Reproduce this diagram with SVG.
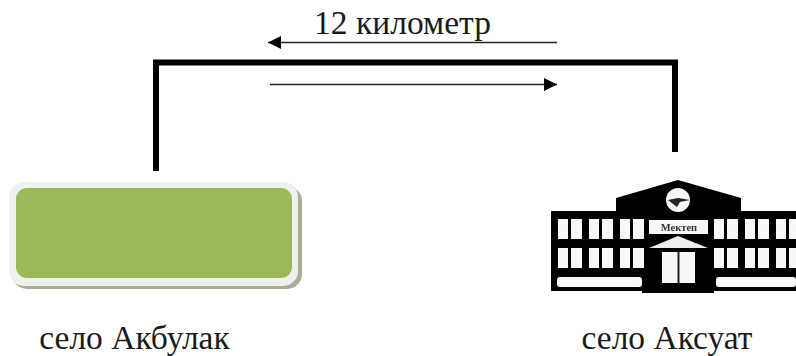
<svg xmlns="http://www.w3.org/2000/svg" width="796" height="356" viewBox="0 0 796 356">
<style>
.t{font-family:"Liberation Serif","Times New Roman",serif;font-size:33.500px;fill:#1a1a1a}
.thin{stroke:#222;stroke-width:1.6;fill:none}
.thick{stroke:#000;stroke-width:6;fill:none}
.w{fill:#f8f8f8}
</style>
<defs>
<marker id="a" markerUnits="userSpaceOnUse" markerWidth="14" markerHeight="14" refX="13" refY="7" orient="auto-start-reverse"><path d="M0 0.5L13 7L0 13.500Z" fill="#000"/></marker>
<filter id="b" x="-5%" y="-5%" width="110%" height="110%"><feGaussianBlur stdDeviation="0.7"/></filter>
<filter id="s" x="-5%" y="-20%" width="110%" height="140%"><feGaussianBlur stdDeviation="1.5"/></filter>
<g id="win"><rect class="w" width="10" height="20"/><rect class="w" x="13" width="11" height="20"/></g>
</defs>
<rect width="796" height="356" fill="#fff"/>
<g id="connectors">
<path d="M159 67H672" stroke="#999" stroke-width="2" fill="none" filter="url(#s)"/>
<path class="thick" d="M156 171V62.500H675V152" filter="url(#b)"/>
<path class="thin" d="M557 42.500H268" marker-end="url(#a)"/>
<path class="thin" d="M270 84.500H557" marker-end="url(#a)"/>
</g>
<g id="label"><text class="t" x="402.500" y="34" text-anchor="middle">12 километр</text></g>
<g id="akbulak">
<rect x="12" y="186" width="290" height="103" rx="15" fill="#a9ad96"/>
<rect x="9" y="182" width="289" height="104" rx="15" fill="#eff1ee"/>
<rect x="16" y="188" width="276" height="90" rx="11" fill="#9bb958"/>
<text class="t" x="134.500" y="349" text-anchor="middle">село Акбулак</text>
</g>
<g id="aksuat">
<g filter="url(#b)">
<path d="M551 211H616V198L678 180L741 198V211H796V291H714V293H642V291H551Z" fill="#000"/>
<circle cx="678" cy="200" r="12" fill="#f6f6f6"/>
<path d="M668 200L678 198L690 200L680 202L677 207Z" fill="#222"/>
<rect class="w" x="649" y="220" width="59" height="14"/>
<path d="M649 248L678 236L708 248Z" fill="#eee"/>
<rect class="w" x="662" y="252" width="33" height="31"/>
<rect x="677.500" y="252" width="2" height="31" fill="#222"/>
<use href="#win" x="558" y="219"/><use href="#win" x="589" y="219"/><use href="#win" x="620" y="219"/>
<use href="#win" x="558" y="248"/><use href="#win" x="589" y="248"/><use href="#win" x="620" y="248"/>
<use href="#win" x="714" y="219"/><use href="#win" x="745" y="219"/><use href="#win" x="776" y="219"/>
<use href="#win" x="714" y="248"/><use href="#win" x="745" y="248"/><use href="#win" x="776" y="248"/>
<rect class="w" x="557" y="277" width="85" height="10" rx="3"/>
<rect class="w" x="716" y="277" width="80" height="10" rx="3"/>
<text x="679" y="231" font-family="Liberation Serif,serif" font-size="10.500" font-weight="bold" text-anchor="middle" fill="#333">Мектеп</text>
</g>
<text class="t" x="667" y="349" text-anchor="middle">село Аксуат</text>
</g>
</svg>
